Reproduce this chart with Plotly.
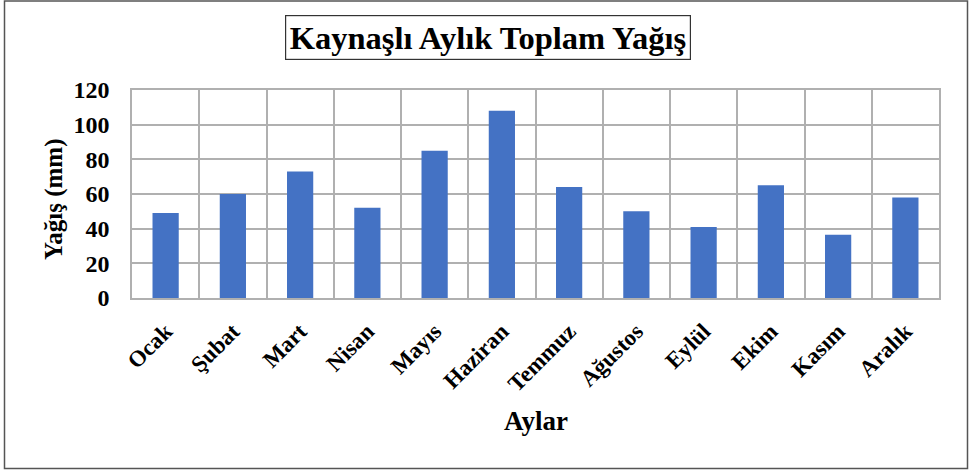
import plotly.graph_objects as go

months = ["Ocak", "Şubat", "Mart", "Nisan", "Mayıs", "Haziran",
          "Temmuz", "Ağustos", "Eylül", "Ekim", "Kasım", "Aralık"]
rain_mm = [49, 60, 73, 52, 85, 108, 64, 50, 41, 65, 36.5, 58]
y_ticks = [0, 20, 40, 60, 80, 100, 120]

title_text = "Kaynaşlı Aylık Toplam Yağış"
x_title = "Aylar"
y_title = "Yağış (mm)"

FONT = "Liberation Serif"
GRID = "#b0b0b0"

W, H = 970, 473
L, R, T, B = 132, 31, 90, 175
pw, ph = W - L - R, H - T - B

def px(x):
    return (x - L) / pw

def py(y):
    return (H - B - y) / ph

fig = go.Figure(go.Bar(
    x=months, y=rain_mm,
    marker=dict(color="#4472C4", line=dict(width=0)),
    width=0.39,
))

fig.update_layout(
    width=W, height=H,
    margin=dict(l=L, r=R, t=T, b=B),
    paper_bgcolor="white", plot_bgcolor="white",
    showlegend=False,
    font=dict(family=FONT, color="black"),
    xaxis=dict(
        type="category", tickson="boundaries",
        showgrid=True, gridcolor=GRID, gridwidth=1.5,
        showline=True, linecolor=GRID, linewidth=1.5, mirror=True,
        ticks="", tickangle=-45,
        tickfont=dict(family=FONT, size=23, color="black", weight="bold"),
        ticklabelstandoff=9,
    ),
    yaxis=dict(
        range=[0, 120], tickvals=y_ticks,
        showgrid=True, gridcolor=GRID, gridwidth=1.5,
        showline=True, linecolor=GRID, linewidth=1.5, mirror=True,
        zeroline=False, ticks="",
        tickfont=dict(family=FONT, size=24, color="black", weight="bold"),
        ticklabelstandoff=16,
    ),
    annotations=[
        dict(text="<b>" + title_text + "</b>", xref="paper", yref="paper",
             x=px(488), y=py(37.5), xanchor="center", yanchor="middle",
             showarrow=False, font=dict(family=FONT, size=32.5, color="black"),
             bordercolor="#333333", borderwidth=1.2, borderpad=3.5, bgcolor="white"),
        dict(text="<b>" + y_title + "</b>", xref="paper", yref="paper",
             x=px(54), y=py(199), xanchor="center", yanchor="middle",
             textangle=-90, showarrow=False,
             font=dict(family=FONT, size=25, color="black")),
        dict(text="<b>" + x_title + "</b>", xref="paper", yref="paper",
             x=px(536), y=py(421), xanchor="center", yanchor="middle",
             showarrow=False, font=dict(family=FONT, size=27, color="black")),
    ],
    shapes=[
        dict(type="rect", xref="paper", yref="paper",
             x0=px(4.5), x1=px(967.5), y0=py(468.5), y1=py(1),
             line=dict(color="#555555", width=1.5), layer="below"),
    ],
)

fig.write_html("out.html",
               config={"displayModeBar": False},
               post_script="document.body.style.margin='0';document.body.style.overflow='hidden';")
